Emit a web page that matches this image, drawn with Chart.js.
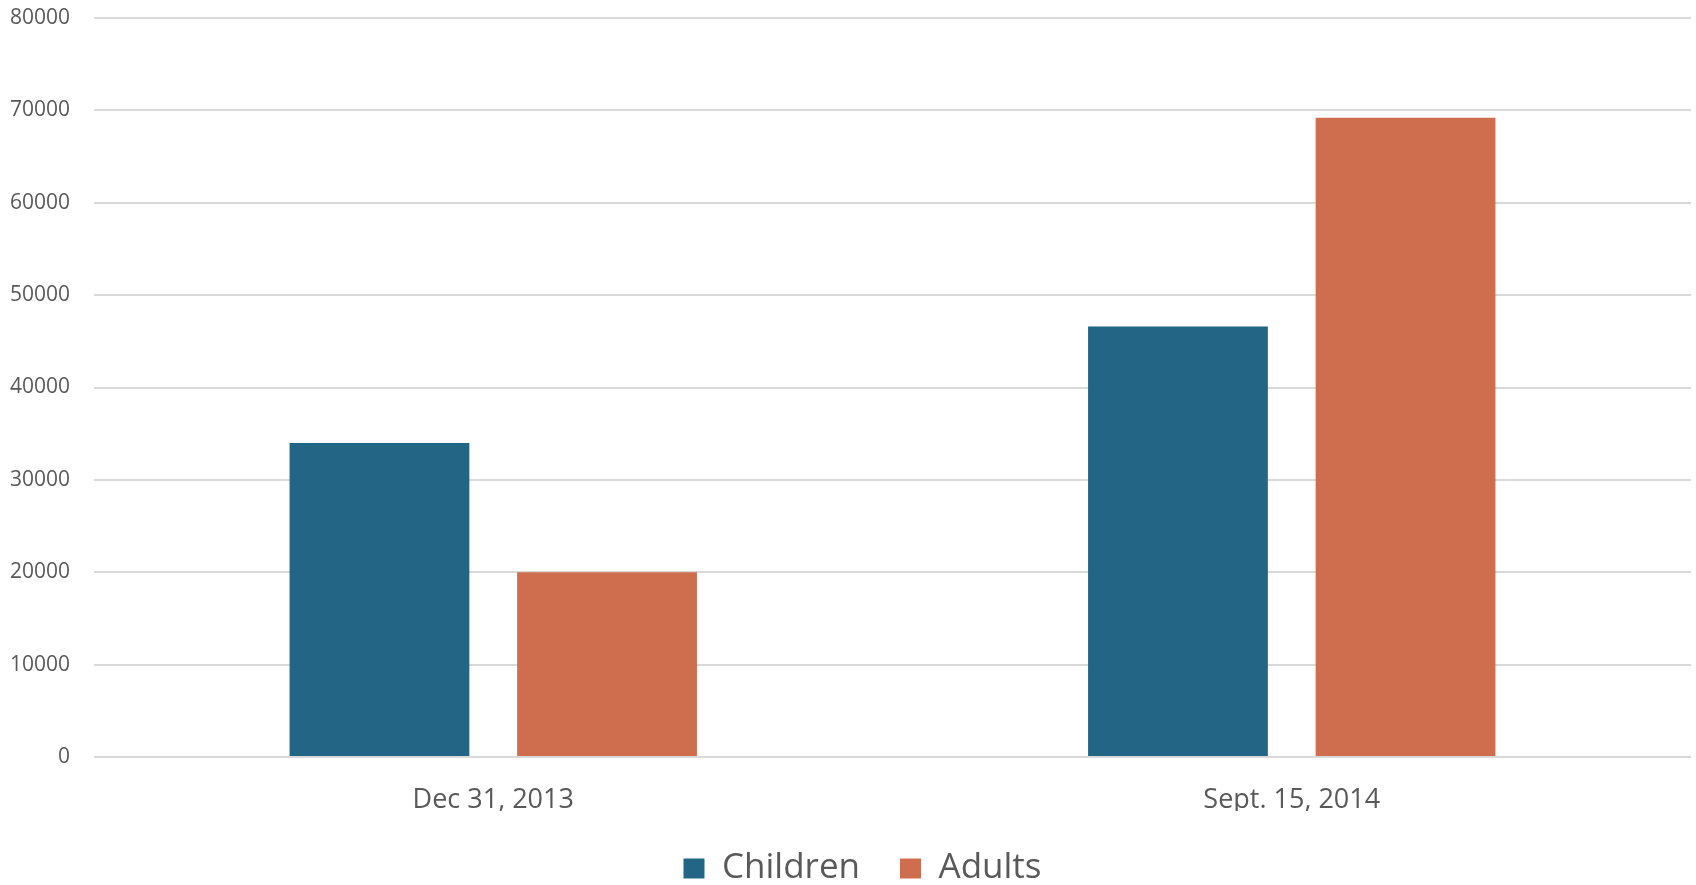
<!DOCTYPE html>
<html>
<head>
<meta charset="utf-8">
<script src="https://cdn.jsdelivr.net/npm/chart.js@4"></script>
<style>
  html, body { margin: 0; padding: 0; background: #fff; }
  #wrap { width: 1696px; height: 885px; }
</style>
</head>
<body>
<div id="wrap"><canvas id="myChart" width="1696" height="885"></canvas></div>
<script>
var categories = ["Dec 31, 2013", "Sept. 15, 2014"];
var children = [34000, 46600];
var adults = [20000, 69200];
var yTicks = [0, 10000, 20000, 30000, 40000, 50000, 60000, 70000, 80000];

// legend has no afterFit option, so pin its height here and nudge it right a bit
var legendHeight = {
    id: 'legendHeight',
    beforeLayout: function (chart) {
        var lg = chart.legend;
        if (lg && !lg._pinned) {
            var fit = lg.fit;
            lg.fit = function () {
                fit.call(this);
                this.height = 74;
            };
            lg._pinned = true;
        }
    },
    afterLayout: function (chart) {
        chart.legend.left += 17;
        chart.legend.right += 17;
    }
};

var ctx = document.getElementById("myChart");
var myChart = new Chart(ctx, {
    type: 'bar',
    data: {
        labels: categories,
        datasets: [
            {label: "Children", data: children, backgroundColor: "#236585"},
            {label: "Adults", data: adults, backgroundColor: "#cf6d4f"}
        ]
    },
    plugins: [legendHeight],
    options: {
        responsive: false,
        animation: false,
        layout: {padding: {top: 18, right: 5, left: 0, bottom: 0}},
        datasets: {
            bar: {categoryPercentage: 0.57, barPercentage: 0.79}
        },
        plugins: {
            tooltip: {enabled: false},
            legend: {
                position: 'bottom',
                labels: {
                    color: '#595959',
                    font: {family: 'Open Sans', size: 35},
                    boxWidth: 21,
                    boxHeight: 20,
                    padding: 40
                }
            }
        },
        scales: {
            x: {
                grid: {display: false},
                border: {display: false},
                ticks: {
                    color: '#595959',
                    font: {family: 'Open Sans', size: 27},
                    padding: 19
                },
                afterFit: function (scale) {
                    scale.height = 54;
                }
            },
            y: {
                min: yTicks[0],
                max: yTicks[yTicks.length - 1],
                afterBuildTicks: function (scale) {
                    scale.ticks = yTicks.map(function (v) { return {value: v}; });
                },
                grid: {color: '#d9d9d9', lineWidth: 2, drawTicks: false},
                border: {display: false},
                ticks: {
                    color: '#595959',
                    font: {family: 'Open Sans', size: 21},
                    padding: 24,
                    callback: function (v) { return String(v); }
                },
                afterFit: function (scale) {
                    scale.width = 94;
                    scale.paddingTop = 0;
                    scale.paddingBottom = 0;
                }
            }
        }
    }
});
</script>
</body>
</html>
